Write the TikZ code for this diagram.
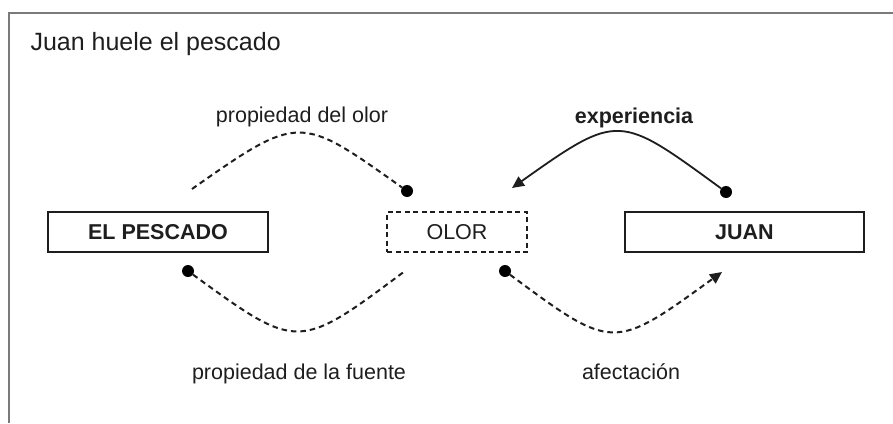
\documentclass[tikz,border=0pt]{standalone}
\usepackage{fontspec}
\setmainfont{Liberation Sans}
\usetikzlibrary{arrows.meta}
\begin{document}
\begin{tikzpicture}[x=1pt,y=-1pt,
  boxnode/.style={draw=ink,line width=1.9pt,minimum width=#1,minimum height=40pt,inner sep=0pt,text=ink,font=\fontsize{21.5}{24}\selectfont},
  dotnode/.style={circle,fill=black,minimum size=12pt,inner sep=0pt},
  lbl/.style={anchor=base,text=ink,font=\fontsize{21.5}{24}\selectfont},
  link/.style={draw=ink,line width=1.8pt},
  dlink/.style={link,line width=2pt,dash pattern=on 5.5pt off 4pt},
  tip/.style={-{Triangle[length=12pt,width=11pt]}}]
\definecolor{ink}{HTML}{1E1E1E}
\definecolor{frame}{HTML}{7A7A7A}
\useasboundingbox (0,0) rectangle (893,423);
\draw[frame,line width=2pt] (9,423) -- (9,13) -- (893,13);
\node[anchor=base west,text=ink,font=\fontsize{25}{29}\selectfont] (title) at (27,50) {Juan huele el pescado};
\node[boxnode=220pt,font=\fontsize{21.5}{24}\selectfont\bfseries] (pescado) at (158,232) {EL PESCADO};
\node[boxnode=140pt,dash pattern=on 5pt off 3.5pt] (olor) at (457,232) {OLOR};
\node[boxnode=239pt,font=\fontsize{21.5}{24}\selectfont\bfseries] (juan) at (744.5,232) {JUAN};
  \foreach \nm/\pos in {dotOlorUp/{(407,191)},dotJuanUp/{(726,192)},dotPescado/{(188,271)},dotOlorDown/{(505,271)}}
  {  \node [dotnode] (\nm) at \pos {};}
\coordinate (startOlor) at (192,189);
\coordinate (tipOlor) at (512,188);
\coordinate (endFuente) at (405,271);
\coordinate (tipJuan) at (722,272);
\draw[dlink] (startOlor) .. controls +(108,-76) and +(-107,-76) .. (dotOlorUp);
\draw[link,tip] (dotJuanUp) .. controls +(-107,-78) and +(107,-76) .. (tipOlor);
\draw[dlink] (dotPescado) .. controls +(110,80) and +(-107,80) .. (endFuente);
\draw[dlink,tip] (dotOlorDown) .. controls +(108,80) and +(-109,79) .. (tipJuan);
\node[lbl] (lOlor) at (302,122) {propiedad del olor};
\node[lbl,font=\fontsize{21.5}{24}\selectfont\bfseries] (lExp) at (634,123) {experiencia};
\node[lbl] (lFuente) at (299,379) {propiedad de la fuente};
\node[lbl] (lAfect) at (631,379) {afectación};
\end{tikzpicture}
\end{document}
